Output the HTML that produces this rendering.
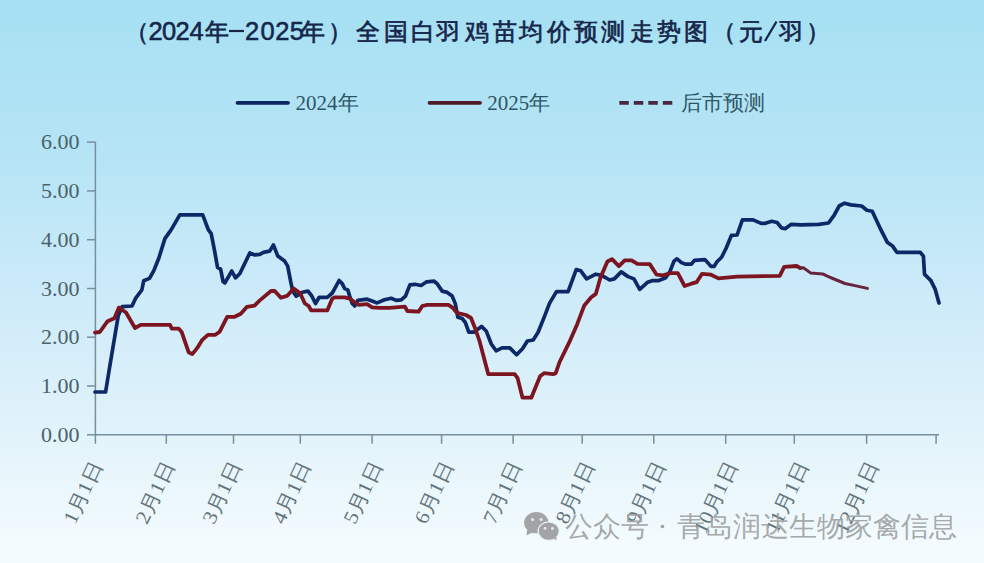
<!DOCTYPE html>
<html><head><meta charset="utf-8"><style>
html,body{margin:0;padding:0;width:984px;height:563px;overflow:hidden;background:#c4e6f5;}
svg{display:block;}
</style></head><body>
<svg width="984" height="563" viewBox="0 0 984 563">
<defs><linearGradient id="bg" x1="0" y1="0" x2="0" y2="1">
<stop offset="0" stop-color="#a6e0f3"/>
<stop offset="0.258" stop-color="#b4e4f5"/>
<stop offset="0.506" stop-color="#cbeaf9"/>
<stop offset="0.737" stop-color="#dff2fa"/>
<stop offset="0.968" stop-color="#f3fbfe"/>
<stop offset="1" stop-color="#f4fbfe"/>
</linearGradient></defs>
<rect x="0" y="0" width="984" height="563" fill="url(#bg)"/>
<g stroke="#7590a0" stroke-width="1.5" fill="none">
<path d="M95.4 142.1 V443.8"/>
<path d="M95.4 434.8 H939"/>
<path d="M87 434.8 H95.4"/>
<path d="M87 386.0 H95.4"/>
<path d="M87 337.2 H95.4"/>
<path d="M87 288.5 H95.4"/>
<path d="M87 239.7 H95.4"/>
<path d="M87 190.9 H95.4"/>
<path d="M87 142.1 H95.4"/>
<path d="M166.3 434.8 V443.8"/>
<path d="M233.5 434.8 V443.8"/>
<path d="M300.3 434.8 V443.8"/>
<path d="M372.1 434.8 V443.8"/>
<path d="M441.6 434.8 V443.8"/>
<path d="M513.1 434.8 V443.8"/>
<path d="M582.2 434.8 V443.8"/>
<path d="M653.8 434.8 V443.8"/>
<path d="M725.7 434.8 V443.8"/>
<path d="M794.3 434.8 V443.8"/>
<path d="M866.6 434.8 V443.8"/>
<path d="M936.1 434.8 V443.8"/>
</g>
<g font-family="Liberation Serif" font-size="22" fill="#4b626b" text-anchor="end">
<text x="79.5" y="442.0">0.00</text>
<text x="79.5" y="393.2">1.00</text>
<text x="79.5" y="344.4">2.00</text>
<text x="79.5" y="295.7">3.00</text>
<text x="79.5" y="246.9">4.00</text>
<text x="79.5" y="198.1">5.00</text>
<text x="79.5" y="149.3">6.00</text>
</g>
<g font-family="Liberation Serif" font-size="20" fill="#65757c" text-anchor="end">
<text transform="translate(102.8 465.5) rotate(-65) scale(1.1 1)" x="0" y="0">1月1日</text>
<text transform="translate(174.9 465.5) rotate(-65) scale(1.1 1)" x="0" y="0">2月1日</text>
<text transform="translate(241.8 465.5) rotate(-65) scale(1.1 1)" x="0" y="0">3月1日</text>
<text transform="translate(311.6 465.5) rotate(-65) scale(1.1 1)" x="0" y="0">4月1日</text>
<text transform="translate(382.8 465.5) rotate(-65) scale(1.1 1)" x="0" y="0">5月1日</text>
<text transform="translate(453.9 465.5) rotate(-65) scale(1.1 1)" x="0" y="0">6月1日</text>
<text transform="translate(522.6 465.5) rotate(-65) scale(1.1 1)" x="0" y="0">7月1日</text>
<text transform="translate(594.8 465.5) rotate(-65) scale(1.1 1)" x="0" y="0">8月1日</text>
<text transform="translate(665.9 465.5) rotate(-65) scale(1.1 1)" x="0" y="0">9月1日</text>
<text transform="translate(737.8 465.5) rotate(-65) scale(1.1 1)" x="0" y="0">10月1日</text>
<text transform="translate(809.4 465.5) rotate(-65) scale(1.1 1)" x="0" y="0">11月1日</text>
<text transform="translate(878.8 465.5) rotate(-65) scale(1.1 1)" x="0" y="0">12月1日</text>
</g>
<polyline points="95,392 105.6,392 109.5,368 114.4,338.8 118.3,315.4 122.2,306.6 132,306 135.9,297.8 141.8,290 143.7,280.8 149.5,278.4 153.7,270.9 158.7,258.5 164.9,238.6 171.1,229.9 179.8,214.9 202.7,214.9 208.4,229.9 211.2,233.7 214.4,249.9 217.5,267.3 220.6,269.2 223.1,281.6 224.9,282.9 231.8,271 235.5,277.9 239.9,273.5 249.8,253 254.8,254.9 259.8,254.3 263.5,252.4 269.7,251.1 273.4,244.9 277.8,256.1 284.6,261.1 287.7,266.1 290.8,282.2 292.7,291 296.2,296.1 302.4,292.3 308,291.1 311.8,296 315.5,303.5 319.2,297.3 327.3,297.3 332.3,293 335.4,287.4 339.1,280.5 342.2,283.6 344.7,288.6 347.8,289.9 349.7,296.1 352.2,303.5 354.7,306 357.8,300.4 367.1,299.2 372.1,301 377.1,302.9 384.5,299.8 391.2,298.3 396.2,300.4 401.2,299.8 405.5,296.1 409.9,284.9 414.9,284.3 421.1,285.5 426.7,281.8 434.1,281.2 437.2,283.7 442.2,291.1 447.2,292.4 452.2,296.1 455.3,303.6 457.8,317.2 462.1,318.5 465.2,322.2 468.8,332.2 473.7,332.2 481.5,326.4 486.4,331.3 491.3,344 496.1,350.8 502,347.9 509.8,347.9 516.6,354.7 522.5,348.8 527.4,341 533.2,340 538.1,332.2 544,317.6 549.6,303.1 556.5,291.6 568.1,291.6 576.2,269.6 580.8,270.8 586.6,278.9 595.8,274.2 601.6,275.4 609.7,280 614.3,278.9 621.2,271.9 628.1,276.6 633.9,278.9 639.7,289.3 645,284.6 647.6,282.2 652.1,280.7 658.1,280.7 665.7,277.7 670.2,270.9 674,261.1 677,258.8 681.5,262.6 685.3,264.1 691.4,264.1 694.4,260.3 705,259.6 711,266.4 714,266.4 717,261.8 721.6,257.3 726.1,248.2 731.4,235.4 737.1,235 742.4,219.9 753.1,219.9 761.1,223.4 764.6,223.4 771.7,221.3 777.1,222.5 781.5,227.9 785.1,228.7 791.3,224.3 801,224.8 818.8,224.3 828.5,223 833.9,215.6 839.2,206 844.5,203.2 850.9,204.9 861.6,206 866.9,210.3 872.2,211.3 879.7,227.3 887.2,242.2 892.5,245.9 896.8,252.3 920.2,252.3 923.4,256.1 924.5,274.2 930.9,280.6 935.1,289.1 939,303" fill="none" stroke="#0c2866" stroke-width="3.7" stroke-linejoin="round" stroke-linecap="round"/>
<polyline points="95,332.6 99.8,332 107.6,321.2 114.4,318.3 118.9,307.6 126,312.5 135,328 140.8,324.8 170,324.9 171.8,328.6 178.7,328.6 181.8,332.3 188.6,352.2 192.3,354.1 197.3,347.9 202.3,339.8 207.9,334.8 215.3,334.8 219.7,331.7 227.2,316.8 234.6,316.8 240.8,313.7 247,306.8 254.5,305.6 259.5,300.6 271,291 274.7,291 280.9,297.8 287.1,295.9 293.7,288.6 300,293 304.9,303.5 308.7,306 311.1,310.4 327.3,310.4 332.3,298.6 334.8,297.3 344.7,297.3 349.7,298.6 354.7,302.3 358.4,304.8 367.1,304.2 372.1,307.3 379.6,307.9 389.5,307.9 404.9,306.7 407.4,311 418.6,311.6 422.3,306 427.3,304.8 448.4,304.8 452.2,307.3 457.1,312.9 460,313.7 466,315 471,318 475,328 479.5,341 488.3,374.2 514.7,374.2 517.6,378.1 522.5,397.7 531.3,397.7 540.1,376.2 544,373.2 553.1,374.2 555.7,373.2 559.6,362 569.2,342.4 577.3,323.9 584.3,305.4 591.2,297.3 595.8,293.9 600.4,277.7 607.4,261.5 612,259.2 618.9,266.2 624.7,260.4 631.6,260.4 637.4,263.9 649.8,264.1 656.6,274.7 662.7,275.4 670.2,273.2 677.8,273.2 684.6,286 691.4,283.7 696.6,282.2 701.9,273.9 711,274.7 718.5,278.4 737.1,276.7 779.7,275.8 784.2,266.9 796.6,266 800.3,268" fill="none" stroke="#7c1520" stroke-width="3.8" stroke-linejoin="round" stroke-linecap="round"/>
<polyline points="800.3,268 803.4,267.8 810.5,272.9 822.7,273.9 827.8,276.4 832.8,278.5 845,283.5 857.2,286.1 867.4,288.4" fill="none" stroke="#68243f" stroke-width="3" stroke-linejoin="round" stroke-linecap="round"/>
<path d="M237.5 102.8 H288" stroke="#0b2560" stroke-width="3.8" stroke-linecap="round"/>
<path d="M429.5 102.8 H480" stroke="#501a28" stroke-width="3.8" stroke-linecap="round"/>
<path d="M619.3 102.8 H672.8" stroke="#4a2840" stroke-width="3.8" stroke-dasharray="9.5 5"/>
<g font-family="Liberation Serif" font-size="21" font-weight="300" fill="#2f5565">
<text x="295.6" y="110">2024年</text>
<text x="487.2" y="110">2025年</text>
<text x="681.3" y="110">后市预测</text>
</g>
<g fill="#15264a">
<text y="39.6" font-family="Liberation Sans" font-weight="500" font-size="24" stroke="#15264a" stroke-width="0.65" x="124.9 204.5 300.8 327.6 356 383.5 411.4 435.9 464.8 492.5 518.6 546.8 574.3 601.2 629.6 657 684 711.9 739.1 779.3 806.3">（年年）全国白羽鸡苗均价预测走势图（元羽）</text>
<text y="40.4" font-family="Liberation Sans" font-size="25.5" stroke="#15264a" stroke-width="0.55" x="148.4 162.1 175.4 189.6 244.9 260.6 275.2 289.7">20242025</text>
<rect x="229" y="29.9" width="15" height="2.2"/>
<path d="M765 41 L776.5 21.5" stroke="#15264a" stroke-width="2.3"/>
</g>
<g>
<ellipse cx="536.3" cy="522.7" rx="12.2" ry="10.6" fill="#a2a4a5"/>
<path d="M527 530 L526.5 535.5 L533 532 Z" fill="#a2a4a5"/>
<circle cx="532.5" cy="519.5" r="1.5" fill="#e6eef0"/>
<circle cx="541.1" cy="519.5" r="1.5" fill="#e6eef0"/>
<ellipse cx="548.7" cy="531.1" rx="10.6" ry="9.2" fill="#a2a4a5" stroke="#e4f3f9" stroke-width="1.2"/>
<path d="M552 537 L556.5 540.5 L556 534 Z" fill="#a2a4a5"/>
<circle cx="545" cy="528.4" r="1.4" fill="#e6eef0"/>
<circle cx="552.4" cy="528.4" r="1.4" fill="#e6eef0"/>
</g>
<g font-family="Liberation Sans" font-size="27.7" font-weight="500" fill="#9c9fa1" fill-opacity="0.9">
<text x="565" y="536">公众号</text>
<text x="677" y="536">青岛润达生物家禽信息</text>
</g>
<circle cx="662.5" cy="526.5" r="1.8" fill="#9c9fa1"/>
</svg>
</body></html>
